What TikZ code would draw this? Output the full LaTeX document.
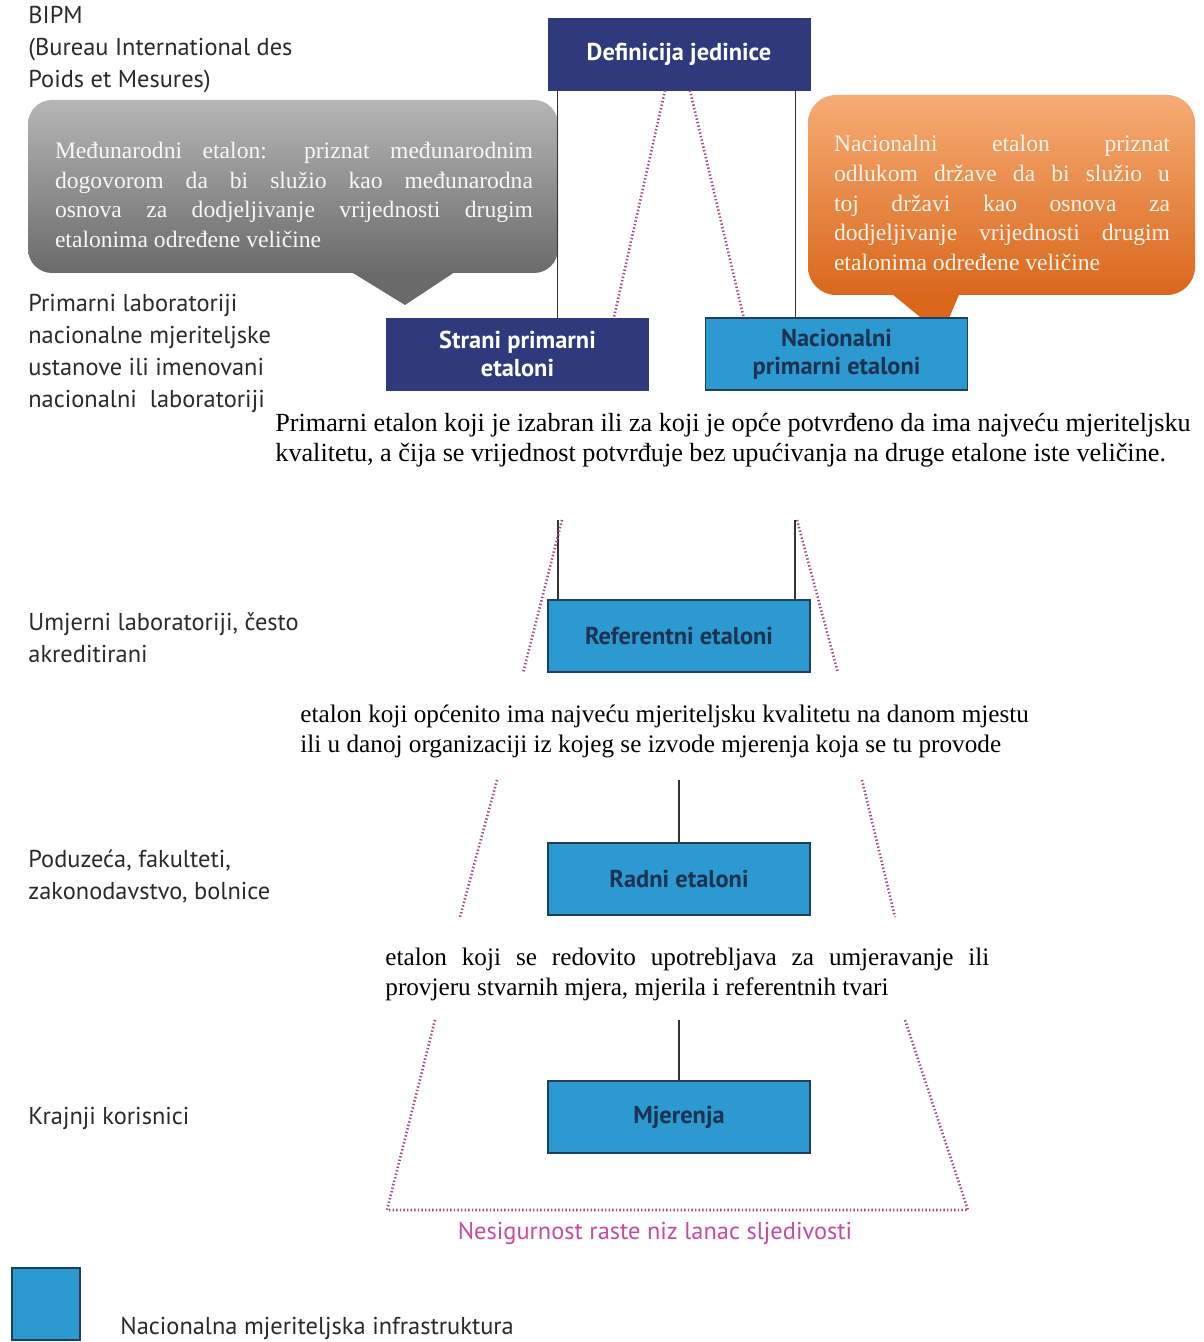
\documentclass[tikz,border=0pt]{standalone}
\usepackage{fontspec}
\setmainfont{Liberation Serif}
\newfontfamily\labfont{PT Sans}
\usetikzlibrary{calc}
\definecolor{navy}{HTML}{2E3A7C}
\definecolor{lblue}{HTML}{2C9AD0}
\definecolor{lborder}{HTML}{1F3F5B}
\definecolor{boxtext}{HTML}{1A3352}
\definecolor{dotc}{HTML}{A04C86}
\definecolor{magtext}{HTML}{C84A9E}
\definecolor{graytop}{HTML}{B6B6B6}
\definecolor{graybot}{HTML}{6A6A6A}
\definecolor{orgtop}{HTML}{F6AC74}
\definecolor{orgbot}{HTML}{DA671C}
\definecolor{labtext}{HTML}{2A2A2A}
\begin{document}
\begin{tikzpicture}[x=0.5pt,y=-0.5pt,
  navybox/.style={draw=navy, fill=navy, text=white, minimum width=131pt, minimum height=36pt,
    font=\labfont\bfseries\fontsize{12.2}{14}\selectfont, align=center, inner sep=0pt},
  bluebox/.style={draw=lborder, line width=0.9pt, fill=lblue, text=boxtext, minimum width=131pt, minimum height=36pt,
    font=\labfont\bfseries\fontsize{12.2}{14}\selectfont, align=center, inner sep=0pt},
  lab/.style={anchor=west, font=\labfont\fontsize{12.2}{16}\selectfont, text=labtext, align=left, inner sep=0pt},
  conn/.style={draw=black!80, line width=0.7pt},
  dots/.style={draw=dotc, line width=1.3pt, dash pattern=on 0.7pt off 1.1pt},
  para/.style={font=\fontsize{12.6}{15}\selectfont, inner sep=0pt, anchor=west},
  calltext/.style={font=\fontsize{11.8}{14.8}\selectfont, inner sep=0pt, align=justify}
]
\useasboundingbox (0,0) rectangle (1203,1342);
\fill[white] (0,0) rectangle (1203,1342);

% left labels
\node[lab] (bipm) at (28,50) {BIPM\\(Bureau International des\\Poids et Mesures)};
\node[lab] (prim) at (28,353) {Primarni laboratoriji\\nacionalne mjeriteljske\\ustanove ili imenovani\\nacionalni\ \ laboratoriji};
\node[lab] (umj) at (28,638) {Umjerni laboratoriji, često\\akreditirani};
\node[lab] (pod) at (28,877) {Poduzeća, fakulteti,\\zakonodavstvo, bolnice};
\node[lab] (kraj) at (28,1118) {Krajnji korisnici};

% gray callout
\fill[graybot] (335,262) -- (470,262) -- (405,305) -- cycle;
\shade[top color=graytop, bottom color=graybot, rounded corners=12pt] (28,100) rectangle (558,273);
\node[calltext, text=white!94!gray, text width=239pt] (gcall) at (294,195)
  {Međunarodni etalon: priznat međunarodnim\linebreak dogovorom da bi služio kao međunarodna\linebreak osnova za dodjeljivanje vrijednosti drugim\linebreak etalonima određene veličine};

% orange callout
\fill[orgbot] (881,285) -- (963,285) -- (942,335) -- cycle;
\shade[top color=orgtop, bottom color=orgbot, rounded corners=14pt] (808,95) rectangle (1195,295);
\node[calltext, text=orange!8!white, text width=168pt] (ocall) at (1002,203)
  {Nacionalni etalon priznat\linebreak odlukom države da bi služio u\linebreak toj državi kao osnova za\linebreak dodjeljivanje vrijednosti drugim\linebreak etalonima određene veličine};

% boxes
\node[navybox] (def) at (679,54) {Definicija jedinice};
\node[navybox] (str) at (517.5,354) {Strani primarni\\etaloni};
\node[bluebox] (nac) at (836.5,354) {Nacionalni\\primarni etaloni};
\node[bluebox] (ref) at (679,636) {Referentni etaloni};
\node[bluebox] (rad) at (679,879) {Radni etaloni};
\node[bluebox] (mje) at (679,1117) {Mjerenja};

% top connectors
\draw[conn] ([xshift=5pt]def.south west) -- ([xshift=5pt]def.south west |- str.north);
\draw[conn] ([xshift=-7.5pt]def.south east) -- ([xshift=-7.5pt]def.south east |- nac.north);
\draw[dots] ([xshift=-7pt]def.south) -- ([xshift=-17.5pt]str.north east);
\draw[dots] ([xshift=5.5pt]def.south) -- ([xshift=19.5pt]nac.north west);

% paragraph 1
\node[para, font=\fontsize{13.1}{15}\selectfont, align=left] (p1) at (275,440) {Primarni etalon koji je izabran ili za koji je opće potvrđeno da ima najveću mjeriteljsku\\kvalitetu, a čija se vrijednost potvrđuje bez upućivanja na druge etalone iste veličine.};

% segment 2
\coordinate (a1) at (558,520);
\coordinate (a2) at (795,520);
\coordinate (a3) at (562,520);
\coordinate (a4) at (523,673);
\coordinate (a5) at (797,520);
\coordinate (a6) at (838,673);
\draw[conn] (a1) -- (a1 |- ref.north);
\draw[conn] (a2) -- (a2 |- ref.north);
\draw[dots] (a3) -- (a4);
\draw[dots] (a5) -- (a6);

% paragraph 2
\node[para, align=left] (p2) at (300,731) {etalon koji općenito ima najveću mjeriteljsku kvalitetu na danom mjestu\\ili u danoj organizaciji iz kojeg se izvode mjerenja koja se tu provode};

% segment 3
\coordinate (b1) at (679,780);
\coordinate (b2) at (497,780);
\coordinate (b3) at (460,917);
\coordinate (b4) at (862,780);
\coordinate (b5) at (895,917);
\draw[conn] (b1) -- (rad.north);
\draw[dots] (b2) -- (b3);
\draw[dots] (b4) -- (b5);

% paragraph 3
\node[para, text width=302pt, align=justify] (p3) at (385,974) {etalon koji se redovito upotrebljava za umjeravanje ili\linebreak provjeru stvarnih mjera, mjerila i referentnih tvari};

% segment 4
\coordinate (c1) at (679,1020);
\coordinate (c2) at (435,1020);
\coordinate (c3) at (387,1210);
\coordinate (c4) at (968,1210);
\coordinate (c5) at (905,1020);
\draw[conn] (c1) -- (mje.north);
\draw[dots] (c2) -- (c3) -- (c4) -- (c5);

\node[font=\labfont\fontsize{12.2}{14}\selectfont, text=magtext, inner sep=0pt] (unc) at (655,1233) {Nesigurnost raste niz lanac sljedivosti};

% legend
\node[draw=lborder, line width=0.9pt, fill=lblue, minimum width=34pt, minimum height=36pt, inner sep=0pt] (leg) at (46,1304) {};
\node[lab] (legt) at (120,1328) {Nacionalna mjeriteljska infrastruktura};
\end{tikzpicture}
\end{document}
